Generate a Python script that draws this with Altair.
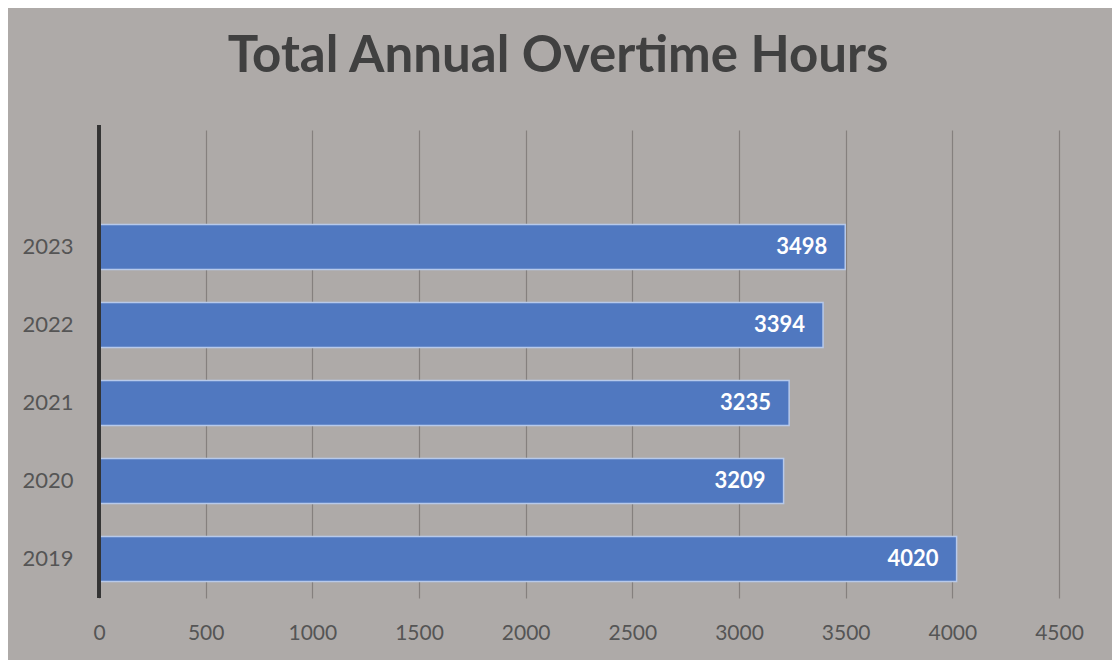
import altair as alt
import pandas as pd

years = ["2019", "2020", "2021", "2022", "2023"]
hours = [4020, 3209, 3235, 3394, 3498]
x_ticks = [0, 500, 1000, 1500, 2000, 2500, 3000, 3500, 4000, 4500]
y_domain = [" ", "2023", "2022", "2021", "2020", "2019"]

df = pd.DataFrame({"year": years, "hours": hours})

FONT = "Lato"
BG = "#aeaaa8"

y_enc = alt.Y(
    "year:N",
    scale=alt.Scale(domain=y_domain, paddingInner=0.42, paddingOuter=0.21),
    axis=alt.Axis(
        title=None, ticks=False, domain=False, grid=False,
        labelFont=FONT, labelFontSize=22, labelColor="#555555", labelPadding=26,
    ),
)
x_enc = alt.X(
    "hours:Q",
    scale=alt.Scale(domain=[0, 4500], nice=False),
    axis=alt.Axis(
        title=None, values=x_ticks, format="d", domain=False, ticks=False,
        grid=True, gridColor="#85807e", gridWidth=1.2, labelFlush=False,
        labelFont=FONT, labelFontSize=21, labelColor="#555555", labelPadding=24,
    ),
)

bars = alt.Chart(df).mark_bar(
    color="#5078c0", stroke="#b7c9ea", strokeWidth=1.5
).encode(x=x_enc, y=y_enc)

labels = alt.Chart(df).mark_text(
    align="right", dx=-18, font=FONT, fontSize=22, fontWeight="bold", color="white"
).encode(x="hours:Q", y=alt.Y("year:N", scale=alt.Scale(domain=y_domain)), text="hours:Q")

axis_line = alt.Chart(df).mark_rule(color="#333333", strokeWidth=3).encode(
    x=alt.value(0), y=alt.value(-5), y2=alt.value(468)
)

chart = alt.layer(bars, labels, axis_line).properties(
    width=960,
    height=468,
    background=BG,
    autosize=alt.AutoSizeParams(type="none"),
    padding={"left": 91, "top": 122, "right": 53, "bottom": 62},
    title=alt.TitleParams(
        "Total Annual Overtime Hours",
        font=FONT, fontSize=51, fontWeight="bold", color="#404040",
        anchor="middle", offset=41, dx=-21,
    ),
).configure_view(stroke=None)

chart.save("out.html", embed_options={"renderer": "svg", "actions": False})
